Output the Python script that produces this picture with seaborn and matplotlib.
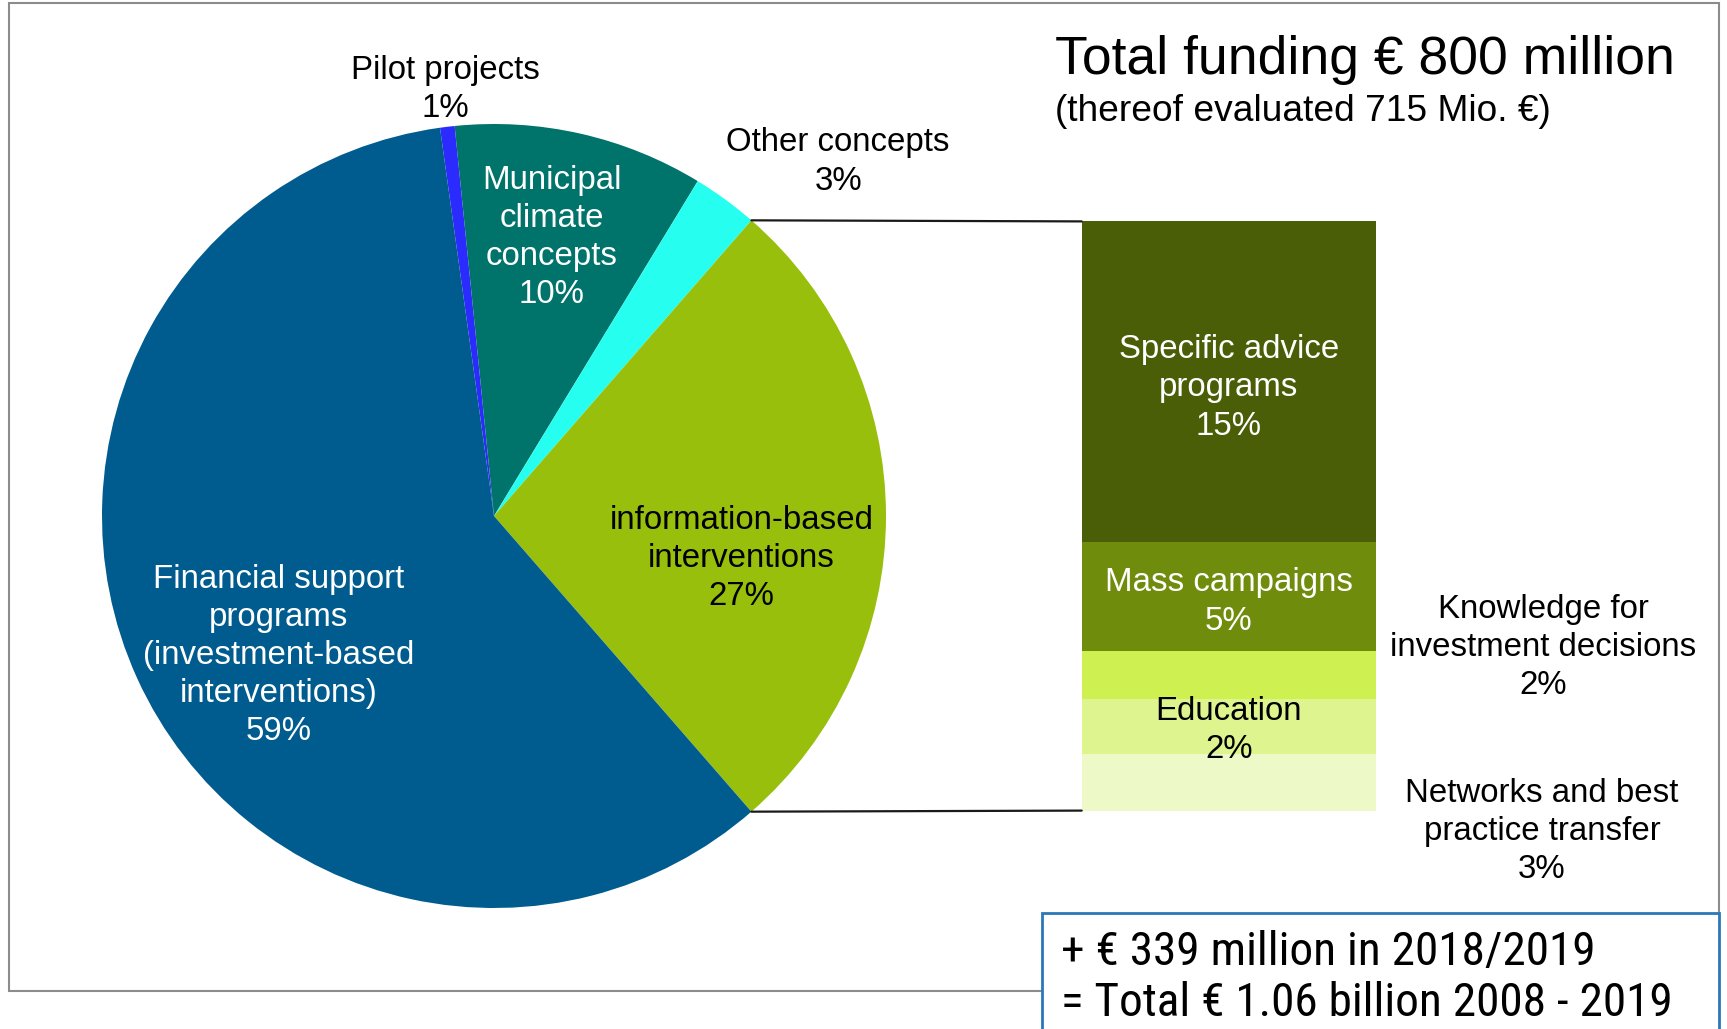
import matplotlib
matplotlib.use("Agg")
import matplotlib.pyplot as plt
from matplotlib.patches import Rectangle, ConnectionPatch
from matplotlib import font_manager
import numpy as np
import pandas as pd
import seaborn as sns

# ---------------- data ----------------
pie_labels = ["Pilot projects\n1%",
              "Municipal\nclimate\nconcepts\n10%",
              "Other concepts\n3%",
              "information-based\ninterventions\n27%",
              "Financial support\nprograms\n(investment-based\ninterventions)\n59%"]
pie_values = [0.6, 10.3, 2.7, 27.2, 59.2]
pie_colors = ["#2B2BFF", "#00736B", "#26FFF0", "#99BF0D", "#005B8F"]
pie_text_colors = ["black", "white", "black", "black", "white"]

bar_labels = ["Networks and best\npractice transfer\n3%",
              "Education\n2%",
              "Knowledge for\ninvestment decisions\n2%",
              "Mass campaigns\n5%",
              "Specific advice\nprograms\n15%"]
bar_values = [2.6, 2.5, 2.2, 5.0, 14.7]
bar_colors = ["#EEF9C8", "#DEF58F", "#CEF050", "#6F8C0C", "#4A5E07"]
bar_text_colors = ["black", "black", "black", "white", "white"]

title = "Total funding € 800 million"
subtitle = "(thereof evaluated 715 Mio. €)"
box_lines = ["+ € 339 million in 2018/2019", "= Total € 1.06 billion 2008 - 2019"]

# ---------------- style ----------------
sns.set_theme(style="white")
plt.rcParams['font.family'] = ['Liberation Sans', 'DejaVu Sans']

LS = 1.30
FS = 23.8

W, H = 1727, 1029
fig = plt.figure(figsize=(W / 100, H / 100), dpi=100)
fig.patch.set_facecolor("white")

def fx(px):
    return px / W

def fy(py):
    return 1 - py / H

# outer frame
fig.add_artist(Rectangle((fx(9), fy(991)), fx(1719) - fx(9), fy(3) - fy(991),
                         transform=fig.transFigure, fill=False,
                         edgecolor="#8C8C8C", linewidth=1.5, zorder=0))

# ---------------- pie ----------------
cx, cy, r = 494, 516, 392
ax_pie = fig.add_axes([fx(cx - r), fy(cy + r), 2 * r / W, 2 * r / H])
info_idx = 3
total = sum(pie_values)
start = 360 * (pie_values[info_idx] / 2 + sum(pie_values[:info_idx])) / total
wedges, _ = ax_pie.pie(pie_values, colors=pie_colors, startangle=start,
                       counterclock=False, radius=1,
                       wedgeprops=dict(linewidth=0))
ax_pie.set_xlim(-1, 1)
ax_pie.set_ylim(-1, 1)
ax_pie.set_aspect("equal")
ax_pie.axis("off")

pie_label_pos = [(-0.125, 1.089), (0.147, 0.710), (0.878, 0.903),
                 (0.631, -0.109), (-0.549, -0.356)]
for lab, (x, y), c in zip(pie_labels, pie_label_pos, pie_text_colors):
    ax_pie.text(x, y, lab, ha="center", va="center", fontsize=FS,
                color=c, linespacing=LS, clip_on=False)

# ---------------- stacked bar ----------------
bx0, bx1, by0, by1 = 1081.7, 1375.7, 221.4, 810.6
ax_bar = fig.add_axes([fx(bx0), fy(by1), (bx1 - bx0) / W, (by1 - by0) / H])
cum = np.cumsum(bar_values)
df = pd.DataFrame({"x": ["info"] * len(bar_values), "top": cum,
                   "label": bar_labels})
for i in range(len(bar_values) - 1, -1, -1):
    sns.barplot(data=df.iloc[[i]], x="x", y="top", color=bar_colors[i],
                width=1.0, linewidth=0, errorbar=None, saturation=1,
                ax=ax_bar)
ax_bar.set_xlim(-0.5, 0.5)
ax_bar.set_ylim(0, cum[-1])
ax_bar.axis("off")

# labels inside bar
ax_bar.text(0, 19.37, bar_labels[4], ha="center", va="center", fontsize=FS,
            color=bar_text_colors[4], linespacing=LS)
ax_bar.text(0, 9.56, bar_labels[3], ha="center", va="center", fontsize=FS,
            color=bar_text_colors[3], linespacing=LS)
ax_bar.text(0, 3.68, bar_labels[1], ha="center", va="center", fontsize=FS,
            color=bar_text_colors[1], linespacing=LS)
# labels outside bar
fig.text(fx(1543), fy(647.5), bar_labels[2], ha="center", va="center",
         fontsize=FS, color="black", linespacing=LS)
fig.text(fx(1542), fy(831.5), bar_labels[0], ha="center", va="center",
         fontsize=FS, color="black", linespacing=LS)

# connector lines
w = wedges[info_idx]
t_top, t_bot = np.deg2rad(w.theta2), np.deg2rad(w.theta1)
for th, yb in [(t_top, cum[-1]), (t_bot, 0)]:
    con = ConnectionPatch(xyA=(np.cos(th), np.sin(th)), coordsA=ax_pie.transData,
                          xyB=(-0.5, yb), coordsB=ax_bar.transData,
                          color="#1A1A1A", linewidth=1.6)
    fig.add_artist(con)

# ---------------- titles ----------------
fig.text(fx(1055), fy(74), title, ha="left", va="baseline", fontsize=38.5,
         color="black")
fig.text(fx(1055), fy(121), subtitle, ha="left", va="baseline", fontsize=26.7,
         color="black")

# ---------------- bottom box ----------------
fig.add_artist(Rectangle((fx(1042), fy(1040)), fx(1719) - fx(1042), fy(913) - fy(1040),
                         transform=fig.transFigure, facecolor="white",
                         edgecolor="#2A78B8", linewidth=2, zorder=3))

available = {f.name for f in font_manager.fontManager.ttflist}
box_family = 'Liberation Sans'
for cand in ['Liberation Sans Narrow', 'Arial Narrow', 'Roboto Condensed',
             'DejaVu Sans Condensed', 'Open Sans Condensed']:
    if cand in available:
        box_family = cand
        break

# fit the first line to the reference width (~534 px)
probe = fig.text(0, 0, box_lines[0], fontsize=37, family=[box_family, 'DejaVu Sans'])
renderer = fig.canvas.get_renderer()
wpx = probe.get_window_extent(renderer=renderer).width
probe.remove()
box_fs = min(37, 37 * 534 / wpx)

for txt, yb in zip(box_lines, [965, 1015.5]):
    fig.text(fx(1061), fy(yb), txt, ha="left", va="baseline", fontsize=box_fs,
             family=[box_family, 'DejaVu Sans'], color="black", zorder=4)

fig.savefig("out.png", dpi=100, facecolor="white")
